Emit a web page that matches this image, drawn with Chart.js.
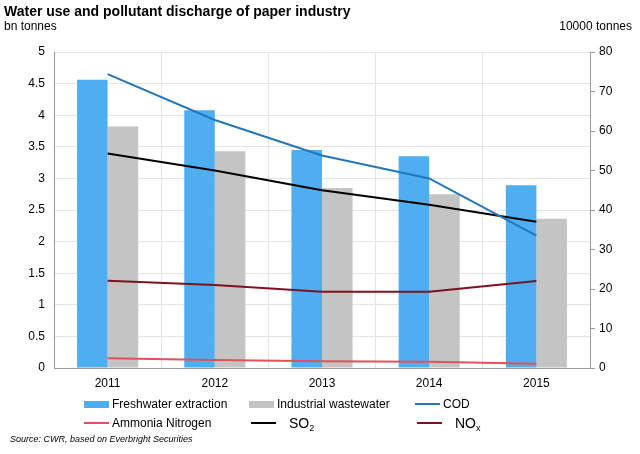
<!DOCTYPE html>
<html>
<head>
<meta charset="utf-8">
<script src="https://cdn.jsdelivr.net/npm/chart.js@4"></script>
<style>
  body { margin: 0; background: #fff; font-family: "Liberation Sans", Arial, sans-serif; }
  #wrap { position: relative; width: 640px; height: 454px; }
  #chart { position: absolute; left: 0; top: 0; }
  .txt { position: absolute; color: #000; white-space: nowrap; }
  #title { left: 4px; top: 3px; font-size: 14px; font-weight: bold; }
  #unitL { left: 4px; top: 19px; font-size: 12px; }
  #unitR { right: 8px; top: 19px; font-size: 12px; }
  #source { left: 10px; top: 434px; font-size: 9px; font-style: italic; }
  .leg { position: absolute; display: flex; align-items: center; font-size: 12px; height: 16px; }
  .sw { display: inline-block; margin-right: 3px; }
  sub { font-size: 9px; vertical-align: -3px; line-height: 0; }
</style>
</head>
<body>
<div id="wrap">
  <canvas id="chart" width="640" height="454"></canvas>
  <div class="txt" id="title">Water use and pollutant discharge of paper industry</div>
  <div class="txt" id="unitL">bn tonnes</div>
  <div class="txt" id="unitR">10000 tonnes</div>
  <div id="legend"></div>
  <div class="txt" id="source">Source: CWR, based on Everbright Securities</div>
</div>
<script>
// ===== Data =====
let years = ["2011", "2012", "2013", "2014", "2015"];

// bn tonnes (left axis)
let freshwater = [4.56, 4.08, 3.45, 3.35, 2.89];
let wastewater = [3.82, 3.43, 2.85, 2.75, 2.36];

// 10000 tonnes (right axis)
let cod = [74.4, 62.8, 53.8, 48.0, 33.5];
let ammonia = [2.45, 2.0, 1.7, 1.6, 1.1];
let so2 = [54.3, 50.0, 45.0, 41.3, 37.0];
let nox = [22.1, 21.0, 19.3, 19.3, 22.0];

let leftTicks = [0, 0.5, 1, 1.5, 2, 2.5, 3, 3.5, 4, 4.5, 5];
let rightTicks = [0, 10, 20, 30, 40, 50, 60, 70, 80];

// ===== Colours =====
let blue = "#4eaef0";
let gray = "#c4c4c4";
let codColor = "#2277ba";
let ammoniaColor = "#e2505b";
let so2Color = "#000000";
let noxColor = "#7d1222";
let gridColor = "#e4e4e4";
let axisColor = "#9a9a9a";

function lineSet(label, data, color) {
  return {
    type: "line",
    label: label,
    data: data,
    yAxisID: "y1",
    borderColor: color,
    backgroundColor: color,
    borderWidth: 2,
    pointRadius: 0,
    tension: 0,
    order: 0
  };
}

let ctx = document.getElementById("chart").getContext("2d");

new Chart(ctx, {
  type: "bar",
  data: {
    labels: years,
    datasets: [
      {
        label: "Freshwater extraction",
        data: freshwater,
        backgroundColor: blue,
        yAxisID: "y",
        categoryPercentage: 0.57,
        barPercentage: 1,
        order: 1
      },
      {
        label: "Industrial wastewater",
        data: wastewater,
        backgroundColor: gray,
        yAxisID: "y",
        categoryPercentage: 0.57,
        barPercentage: 1,
        order: 1
      },
      lineSet("COD", cod, codColor),
      lineSet("Ammonia Nitrogen", ammonia, ammoniaColor),
      lineSet("SO2", so2, so2Color),
      lineSet("NOx", nox, noxColor)
    ]
  },
  options: {
    responsive: false,
    animation: false,
    layout: { padding: { top: 52, left: 0, right: 0, bottom: 0 } },
    plugins: {
      legend: { display: false },
      tooltip: { enabled: false }
    },
    scales: {
      x: {
        offset: true,
        grid: { color: gridColor, offset: true, drawTicks: false },
        border: { color: axisColor },
        ticks: { color: "#000", font: { family: "Liberation Sans", size: 12 }, padding: 8, maxRotation: 0 },
        afterFit: s => { s.height = 86; }
      },
      y: {
        position: "left",
        min: 0,
        max: 5,
        afterBuildTicks: s => { s.ticks = leftTicks.map(v => ({ value: v })); },
        grid: { color: gridColor, tickLength: 0 },
        border: { color: axisColor },
        ticks: {
          color: "#000",
          font: { family: "Liberation Sans", size: 12 },
          padding: 9,
          callback: v => String(v)
        },
        afterFit: s => { s.width = 54; }
      },
      y1: {
        position: "right",
        min: 0,
        max: 80,
        afterBuildTicks: s => { s.ticks = rightTicks.map(v => ({ value: v })); },
        grid: { drawOnChartArea: false, color: axisColor, tickLength: 5 },
        border: { color: axisColor },
        ticks: { color: "#000", font: { family: "Liberation Sans", size: 12 }, padding: 4 },
        afterFit: s => { s.width = 50; }
      }
    }
  }
});

// ===== Legend =====
let legendItems = [
  { label: "Freshwater extraction", color: blue, kind: "box", x: 84, y: 396 },
  { label: "Industrial wastewater", color: gray, kind: "box", x: 249, y: 396 },
  { label: "COD", color: codColor, kind: "line", x: 415, y: 396 },
  { label: "Ammonia Nitrogen", color: ammoniaColor, kind: "line", x: 84, y: 415 },
  { label: "SO<sub>2</sub>", color: so2Color, kind: "line", x: 251, y: 415, big: true },
  { label: "NO<sub>x</sub>", color: noxColor, kind: "line", x: 417, y: 415, big: true }
];

let legendEl = document.getElementById("legend");
legendItems.forEach(item => {
  let sw = item.kind === "box"
    ? `<span class="sw" style="width:25px;height:7px;background:${item.color}"></span>`
    : `<span class="sw" style="width:25px;height:2px;background:${item.color}"></span>`;
  let gap = item.big ? "margin-left:10px;font-size:14px;" : "";
  legendEl.innerHTML += `<div class="leg" style="left:${item.x}px;top:${item.y}px">${sw}<span style="${gap}">${item.label}</span></div>`;
});
</script>
</body>
</html>
